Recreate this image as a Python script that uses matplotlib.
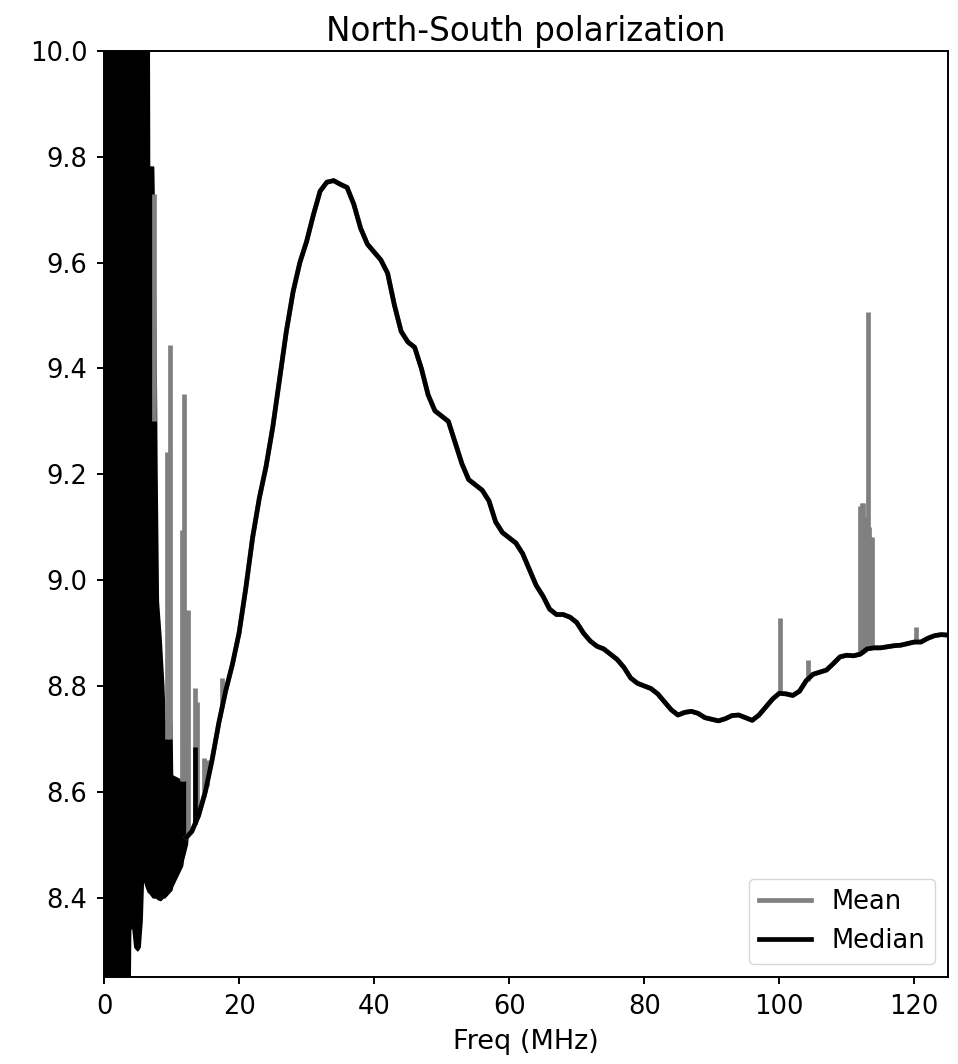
import matplotlib
matplotlib.use("Agg")
import matplotlib.pyplot as plt

# smooth part of the median spectrum (MHz, value)
median_freq = [12.2, 13, 14, 15, 16, 17, 18, 19, 20, 21, 22, 23, 24, 25, 26, 27, 28, 29,
               30, 31, 32, 33, 34, 35, 36, 37, 38, 39, 40, 41, 42, 43, 44, 45, 46, 47, 48, 49,
               50, 51, 52, 53, 54, 55, 56, 57, 58, 59, 60, 61, 62, 63, 64, 65, 66, 67, 68, 69,
               70, 71, 72, 73, 74, 75, 76, 77, 78, 79, 80, 81, 82, 83, 84, 85, 86, 87, 88, 89,
               90, 91, 92, 93, 94, 95, 96, 97, 98, 99, 100, 101, 102, 103, 104, 105, 106, 107,
               108, 109, 110, 111, 112, 113, 114, 115, 116, 117, 118, 119, 120, 121, 122, 123,
               124, 125]
median_val = [8.514, 8.525, 8.555, 8.60, 8.66, 8.73, 8.79, 8.84, 8.90, 8.985, 9.08, 9.155,
              9.215, 9.29, 9.38, 9.47, 9.545, 9.60,
              9.64, 9.69, 9.735, 9.752, 9.755, 9.748, 9.742, 9.71, 9.665, 9.635, 9.62, 9.605,
              9.58, 9.52, 9.47, 9.45, 9.44, 9.40, 9.35, 9.32,
              9.31, 9.30, 9.26, 9.22, 9.19, 9.18, 9.17, 9.15, 9.11, 9.09, 9.08, 9.07, 9.05,
              9.02, 8.99, 8.97, 8.945, 8.935, 8.935, 8.93,
              8.92, 8.90, 8.885, 8.875, 8.87, 8.86, 8.85, 8.835, 8.815, 8.805, 8.80, 8.795,
              8.785, 8.77, 8.755, 8.745, 8.75, 8.752, 8.748, 8.74,
              8.737, 8.734, 8.738, 8.744, 8.745, 8.74, 8.735, 8.745, 8.76, 8.775, 8.786, 8.785,
              8.782, 8.79, 8.81, 8.822, 8.826, 8.83,
              8.842, 8.855, 8.858, 8.857, 8.86, 8.87, 8.872, 8.872, 8.874, 8.876, 8.877, 8.88,
              8.883, 8.883, 8.89, 8.895,
              8.897, 8.896]

# noisy low-frequency band (upper / lower envelope)
noise_freq = [0.0, 3.8, 3.9, 4.3, 4.6, 5.0, 5.3, 5.6, 5.8, 6.3, 6.6, 6.7, 7.3, 7.4, 7.7,
              7.8, 8.0, 8.4, 8.8, 9.0, 10.0, 10.1, 11.6, 11.7, 12.3, 12.4]
noise_hi = [10.3, 10.3, 10.3, 10.3, 10.3, 10.3, 10.3, 10.3, 10.3, 10.3, 10.3, 9.78, 9.78,
            9.70, 9.36, 9.2, 8.96, 8.89, 8.80, 8.73, 8.73, 8.63, 8.62, 8.684, 8.684, 8.55]
noise_lo = [8.2, 8.2, 8.34, 8.344, 8.306, 8.30, 8.306, 8.357, 8.44, 8.42, 8.41, 8.41, 8.40,
            8.40, 8.40, 8.40, 8.397, 8.395, 8.40, 8.40, 8.414, 8.42, 8.46, 8.47, 8.50, 8.515]

# RFI spikes in the mean
spike_freq = [7.4, 9.3, 9.7, 11.6, 11.9, 12.4, 13.5, 13.8, 14.8, 15.2, 17.5,
              100.1, 104.3, 112.0, 112.2, 112.4, 112.7, 112.9, 113.1, 113.3, 113.5, 113.8, 120.3]
spike_base = [9.3, 8.70, 8.70, 8.62, 8.62, 8.52, 8.54, 8.55, 8.59, 8.61, 8.76,
              8.786, 8.81, 8.86, 8.86, 8.862, 8.865, 8.868, 8.87, 8.87, 8.871, 8.872, 8.883]
spike_top = [9.73, 9.243, 9.444, 9.094, 9.352, 8.943, 8.796, 8.77, 8.663, 8.66, 8.815,
             8.928, 8.849, 9.14, 9.146, 9.146, 9.12, 9.12, 9.507, 9.10, 9.081, 9.081, 8.911]

# small spike that also shows in the median
med_spike_freq = [13.4]
med_spike_base = [8.54]
med_spike_top = [8.684]

fig = plt.figure(figsize=(9.58, 10.64), dpi=100)
ax = fig.add_axes([0.1086, 0.0818, 0.881, 0.8703])

lw = 3.4
ax.plot(median_freq, median_val, color='gray', lw=lw, label='Mean')
ax.vlines(spike_freq, spike_base, spike_top, color='gray', lw=lw)
ax.fill_between(noise_freq, noise_lo, noise_hi, color='black', lw=1.5)
ax.vlines(med_spike_freq, med_spike_base, med_spike_top, color='black', lw=lw)
ax.plot(median_freq, median_val, color='black', lw=lw, label='Median')

ax.set_xlim(0, 125)
ax.set_ylim(8.25, 10.0)
ax.set_xticks([0, 20, 40, 60, 80, 100, 120])
ax.set_yticks([8.4, 8.6, 8.8, 9.0, 9.2, 9.4, 9.6, 9.8, 10.0])
ax.tick_params(labelsize=18.5, length=5, width=1.4, pad=7)
for s in ax.spines.values():
    s.set_linewidth(1.4)

ax.set_title('North-South polarization', fontsize=23.5, pad=7)
ax.set_xlabel('Freq (MHz)', fontsize=19.5, labelpad=7)
ax.legend(loc='lower right', fontsize=18.5, handlelength=2.0)

fig.savefig('out.png', dpi=100)
